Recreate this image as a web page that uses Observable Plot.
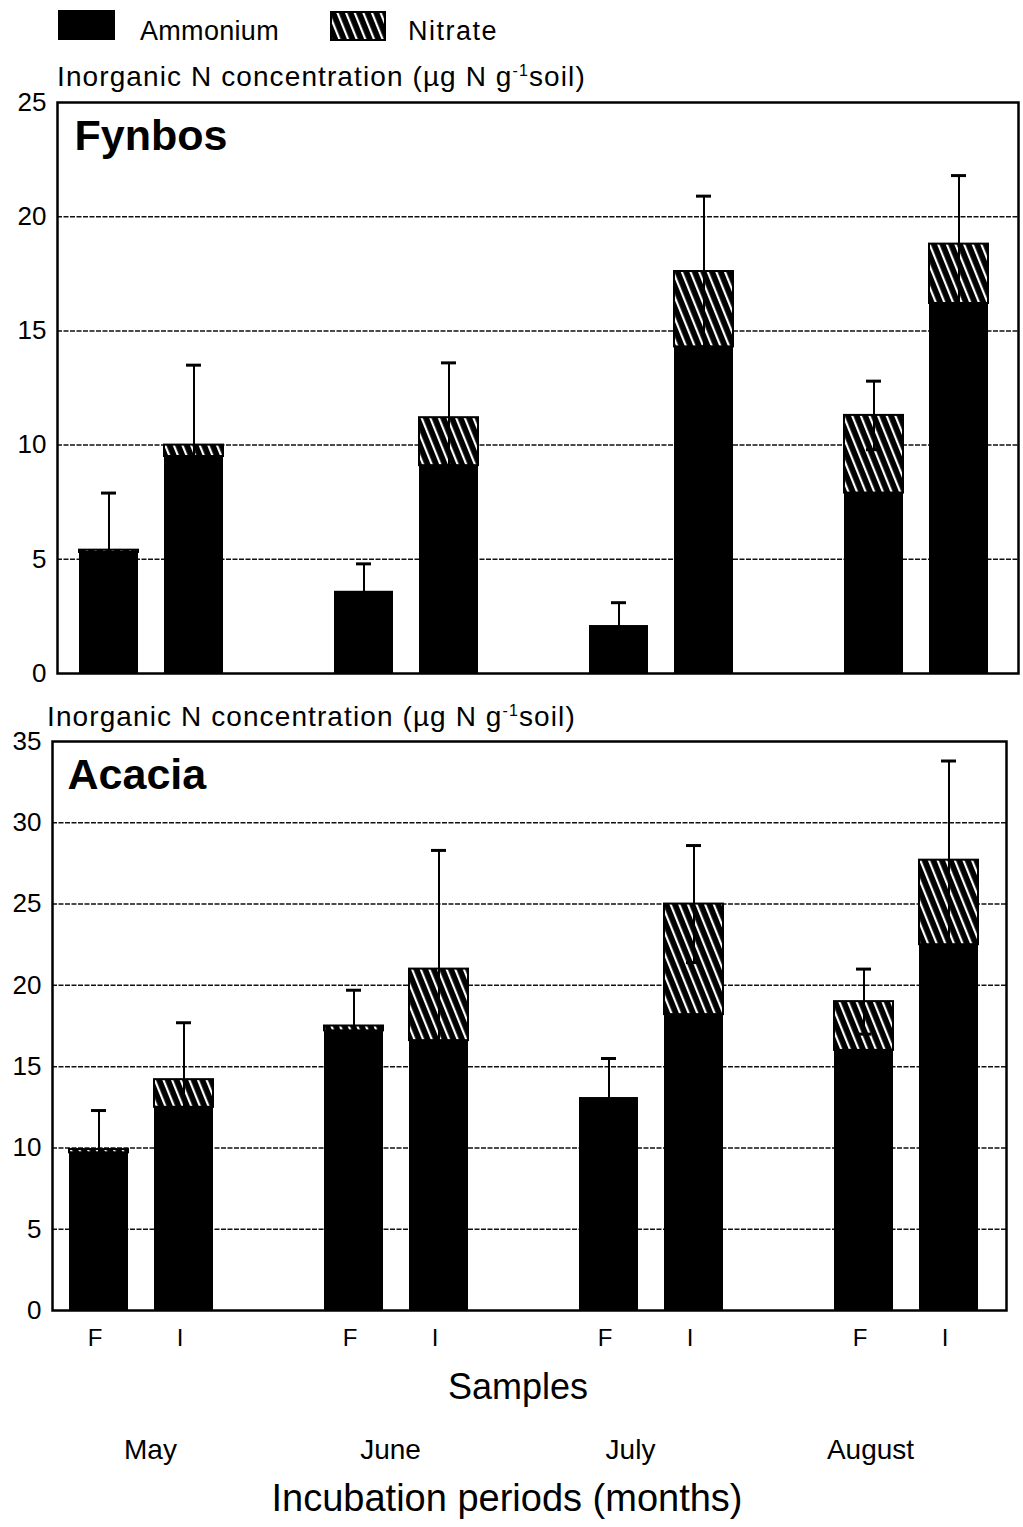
<!DOCTYPE html>
<html><head><meta charset="utf-8">
<script src="https://cdn.jsdelivr.net/npm/d3@7"></script>
<script src="https://cdn.jsdelivr.net/npm/@observablehq/plot@0.6"></script>
<style>
body{margin:0;background:#fff;font-family:"Liberation Sans",Arial,sans-serif;color:#000}
#page{position:relative;width:1023px;height:1527px;overflow:hidden;background:#fff}
.abs{position:absolute;left:0}
</style></head><body><div id="page">
<svg class="abs" style="top:0" width="1023" height="1527" font-family="Liberation Sans, Arial, sans-serif">
  <defs>
    <pattern id="hatch" width="8" height="8" patternUnits="userSpaceOnUse" patternTransform="rotate(-22)">
      <rect width="8" height="8" fill="#000"/>
      <rect x="3" width="2.2" height="8" fill="#fff"/>
    </pattern>
  </defs>
  <rect x="58" y="10" width="57" height="30" fill="#000"/>
  <text x="140" y="40" font-size="27" letter-spacing="0.3">Ammonium</text>
  <rect x="331" y="12" width="54" height="28" fill="url(#hatch)" stroke="#000" stroke-width="2"/>
  <text x="408" y="40" font-size="27" letter-spacing="1.5">Nitrate</text>
  <text x="57" y="86" font-size="28" letter-spacing="1.1">Inorganic N concentration (µg N g<tspan dy="-10" font-size="16">-1</tspan><tspan dy="10">soil)</tspan></text>
  <text x="47" y="726" font-size="28" letter-spacing="1.1">Inorganic N concentration (µg N g<tspan dy="-10" font-size="16">-1</tspan><tspan dy="10">soil)</tspan></text>
  <text x="518" y="1399" font-size="36" text-anchor="middle">Samples</text>
  <text x="507" y="1511" font-size="38" text-anchor="middle">Incubation periods (months)</text>
</svg>
<div class="abs" id="top" style="top:90px"></div>
<div class="abs" id="bottom" style="top:729px"></div>
<div class="abs" id="monthsRow" style="top:1425px"></div>
</div>
<script>
const months = ["May", "June", "July", "August"];
const samples = ["F", "I"];
const fynbosTicks = [0, 5, 10, 15, 20, 25];
const acaciaTicks = [0, 5, 10, 15, 20, 25, 30, 35];
const fynbosAmmonium = [5.3, 9.5, 3.6, 9.1, 2.1, 14.3, 7.9, 16.2];
const fynbosNitrate  = [0.1, 0.5, 0.0, 2.1, 0.0, 3.3, 3.4, 2.6];
const fynbosSE       = [2.5, 3.5, 1.2, 2.4, 1.0, 3.3, 1.5, 3.0];
const acaciaAmmonium = [9.7, 12.5, 17.2, 16.6, 13.1, 18.2, 16.0, 22.5];
const acaciaNitrate  = [0.2, 1.7, 0.3, 4.4, 0.0, 6.8, 3.0, 5.2];
const acaciaSE       = [2.4, 3.5, 2.2, 7.3, 2.4, 3.6, 2.0, 6.1];

const slots = months.flatMap((m, i) => [
  ...samples.map(s => `${m} ${s}`),
  ...(i < months.length - 1 ? [`${m} gap`] : [])
]);
const sampleSlots = slots.filter(k => !k.endsWith("gap"));

function rows(amm, nit, se) {
  return months.flatMap((m, i) => samples.map((s, j) => {
    const k = i * samples.length + j;
    return {key: `${m} ${s}`, ammonium: amm[k], nitrate: nit[k], total: amm[k] + nit[k], se: se[k]};
  }));
}

function panel({data, ticks, title, height, marginLeft, marginRight, marginBottom, xRange, titleDx, xAxis}) {
  const marks = [
    Plot.ruleY(ticks.slice(1, -1), {stroke: "#111", strokeWidth: 1.5, strokeDasharray: "5,1.5"}),
    Plot.barY(data, {x: "key", y1: 0, y2: "ammonium", fill: "#000"}),
    Plot.barY(data.filter(d => d.nitrate > 0), {x: "key", y1: "ammonium", y2: "total", fill: "url(#hatch)", stroke: "#000", strokeWidth: 2}),
    Plot.ruleX(data, {x: "key", y1: d => d.total - d.se, y2: d => d.total + d.se, stroke: "#000", strokeWidth: 2}),
    Plot.tickY(data, {x: "key", y: d => d.total + d.se, stroke: "#000", strokeWidth: 3, insetLeft: 22, insetRight: 22}),
    Plot.tickY(data, {x: "key", y: d => d.total - d.se, stroke: "#000", strokeWidth: 3, insetLeft: 22, insetRight: 22}),
    Plot.frame({stroke: "#000", strokeWidth: 2.5}),
    Plot.axisY({ticks, tickSize: 0, tickPadding: 11, fontSize: 26, label: null}),
    Plot.text([title], {text: d => d, frameAnchor: "top-left", dx: titleDx, dy: 17, lineAnchor: "top", textAnchor: "start", fontSize: 43, fontWeight: "bold"})
  ];
  if (xAxis) marks.push(Plot.axisX({ticks: sampleSlots, tickFormat: k => k.split(" ")[1], tickSize: 0, tickPadding: 18, fontSize: 24, dx: -4, label: null}));
  return Plot.plot({
    width: 1023, height,
    marginTop: 12, marginBottom, marginLeft, marginRight,
    style: {fontFamily: "Liberation Sans, Arial, sans-serif", fontSize: "26px", color: "#000", background: "transparent", overflow: "visible"},
    x: {domain: slots, range: xRange, paddingInner: 0.3, paddingOuter: 0.15, axis: null},
    y: {domain: [ticks[0], ticks[ticks.length - 1]], axis: null},
    marks
  });
}

document.getElementById("top").append(panel({
  data: rows(fynbosAmmonium, fynbosNitrate, fynbosSE), ticks: fynbosTicks, title: "Fynbos",
  height: 586, marginLeft: 57, marginRight: 5, marginBottom: 3, xRange: [65.4, 1002.6], titleDx: 17, xAxis: false
}));
document.getElementById("bottom").append(panel({
  data: rows(acaciaAmmonium, acaciaNitrate, acaciaSE), ticks: acaciaTicks, title: "Acacia",
  height: 631, marginLeft: 52, marginRight: 17, marginBottom: 50, xRange: [55.5, 991.5], titleDx: 15, xAxis: true
}));
document.getElementById("monthsRow").append(Plot.plot({
  width: 1023, height: 50, margin: 0,
  style: {fontFamily: "Liberation Sans, Arial, sans-serif", background: "transparent", overflow: "visible"},
  x: {domain: months, range: [30, 990], axis: null},
  marks: [Plot.text(months, {x: d => d, text: d => d, fontSize: 28, fill: "#000"})]
}));
</script>
</body></html>
